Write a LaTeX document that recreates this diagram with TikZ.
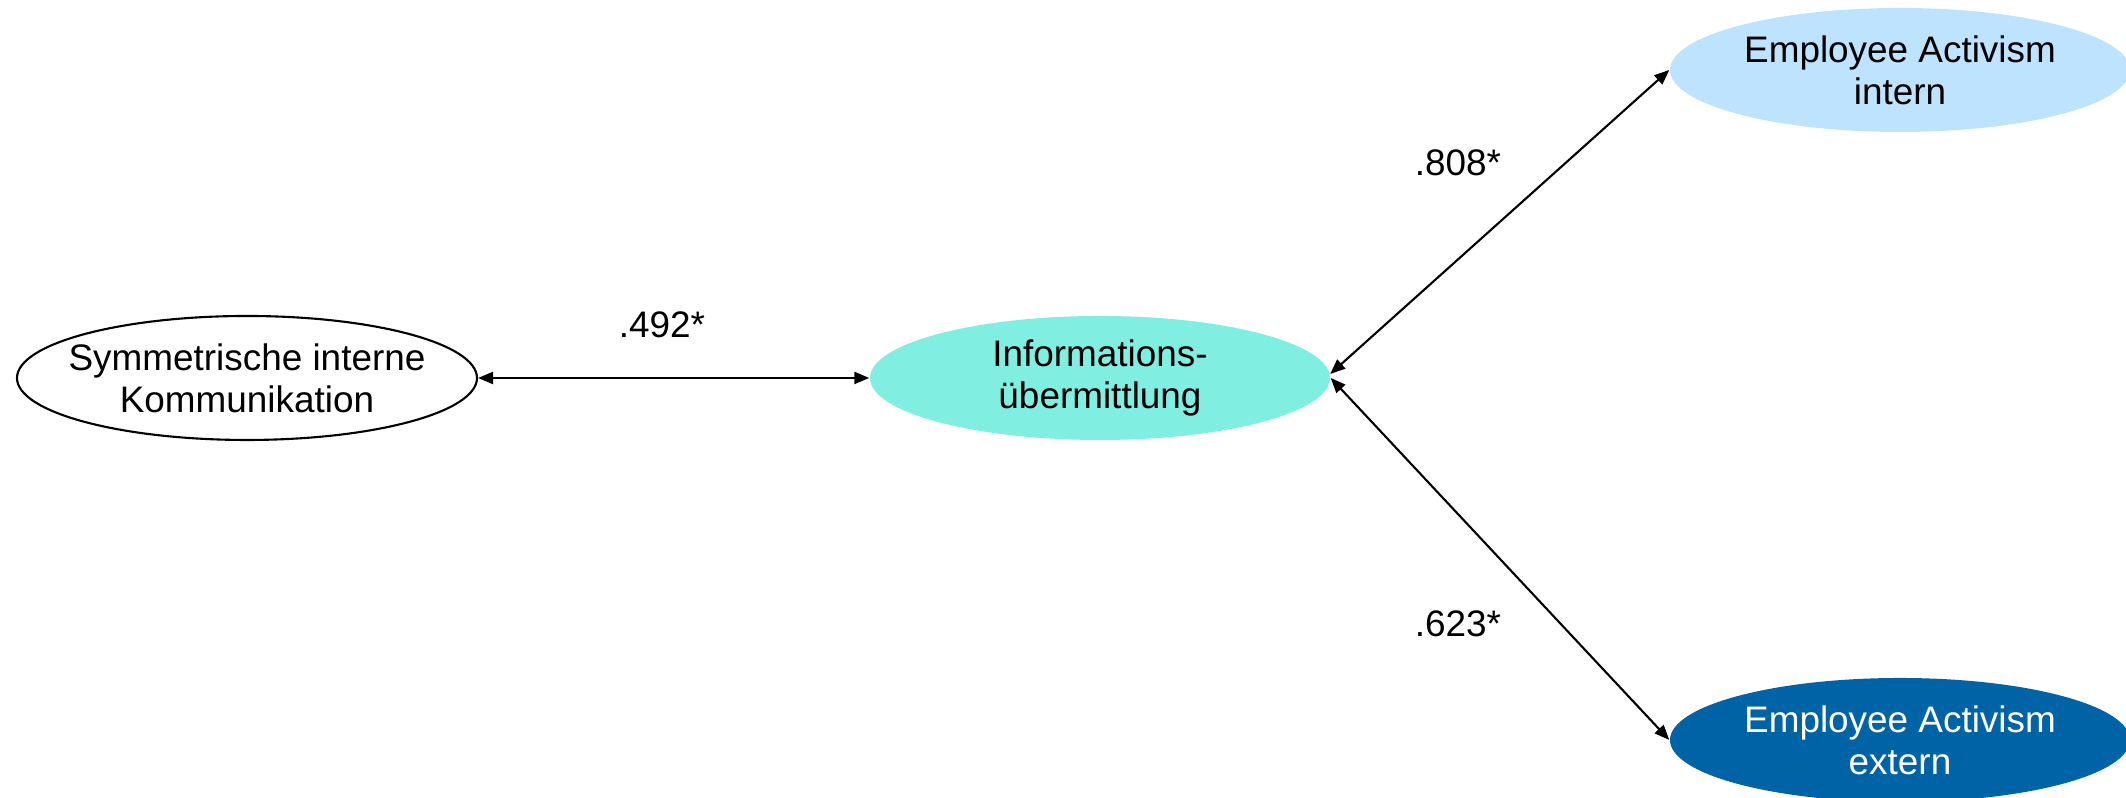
\documentclass[tikz,border=0pt]{standalone}
\usepackage{fontspec}
\setmainfont{Liberation Sans}
\usepackage{xcolor}
\usetikzlibrary{arrows.meta,positioning,shapes.geometric}

\definecolor{infoturq}{RGB}{128,238,224}
\definecolor{eaintern}{RGB}{189,227,254}
\definecolor{eaextern}{RGB}{0,99,166}

\begin{document}
\begin{tikzpicture}[font=\fontsize{10.5}{11.9}\selectfont,
      construct/.style={ellipse, inner xsep=-8mm, inner ysep=0pt,
        minimum width=4.6cm, minimum height=1.24cm, align=center},
      biarrow/.style={{Triangle[length=1.5mm, width=1.2mm]}-{Triangle[length=1.5mm, width=1.2mm]},
        line width=0.6pt}]
    \useasboundingbox (0,0) rectangle (21.26,7.98);
    % constructs
    \node[construct, draw, line width=0.6pt] (sik) at (2.47,4.20)
      {Symmetrische interne\\Kommunikation};
    \node[construct, fill=infoturq] (info) at (11.00,4.20)
      {Informations-\\übermittlung};
    \node[construct, fill=eaintern] (eaint) at (19.00,7.28)
      {Employee Activism\\intern};
    \node[construct, fill=eaextern, text=white] (eaext) at (19.00,0.58)
      {Employee Activism\\extern};
    % paths
    \draw[biarrow] (sik.east) -- (info.west);
    \draw[biarrow] (info.1.5) -- (eaint.west);
    \draw[biarrow] (info.-0.5) -- (eaext.west);
    % coefficients
    \node (c492) at (6.62,4.73) {.492*};
    \node (c808) at (14.58,6.35) {.808*};
    \node (c623) at (14.58,1.74) {.623*};
  \end{tikzpicture}
\end{document}
